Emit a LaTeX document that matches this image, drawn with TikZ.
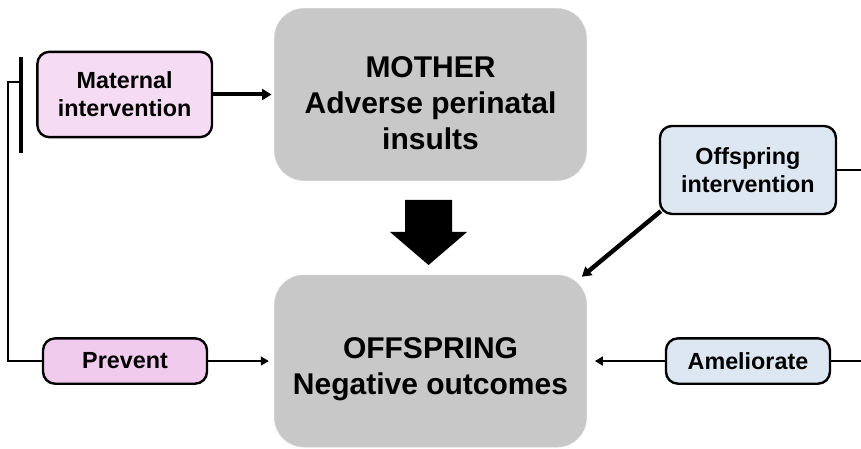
\documentclass[tikz,border=0pt]{standalone}
\usepackage{fontspec}
\setmainfont{Liberation Sans}
\usetikzlibrary{positioning, arrows.meta}
\definecolor{motherpink}{RGB}{246,220,243}
\definecolor{preventpink}{RGB}{240,203,238}
\definecolor{childblue}{RGB}{221,231,242}
\definecolor{boxgray}{RGB}{200,200,200}

\begin{document}
\begin{tikzpicture}[x=0.75pt, y=-0.75pt, node distance=70.5pt and 45.75pt,
    bigbox/.style={draw=boxgray!80!white, fill=boxgray, rounded corners=22pt,
                minimum width=234pt, minimum height=129pt},
    bigtext/.style={align=center, yshift=-6.5pt,
                font=\bfseries\fontsize{22.5}{27}\selectfont},
    smallbox/.style={draw, line width=1.8pt, rounded corners=9pt, minimum width=131pt,
                align=center, font=\bfseries\fontsize{17.5}{21}\selectfont},
    link/.style={line width=1.8pt, -{Triangle[length=6pt, width=6.5pt]}},
    heavy/.style={line width=3pt, -{Triangle[length=7pt, width=8pt]}}]

  \useasboundingbox (0,0) rectangle (861,449);

  \node[bigbox, label={[bigtext]center:MOTHER\\Adverse perinatal\\insults}]
        (mother) at (430.5,94.5) {};
  \node[bigbox, below=of mother, label={[bigtext]center:OFFSPRING\\Negative outcomes}]
        (offspring) {};
  \node[smallbox, fill=motherpink, minimum height=64pt, left=45.75pt of mother] (maternal)
        {Maternal\\intervention};
  \node[smallbox, fill=preventpink, minimum width=123pt, minimum height=34pt,
        left=49.5pt of offspring] (prevent) {Prevent};
  \node[smallbox, fill=childblue, minimum width=123pt, minimum height=34pt,
        right=58.5pt of offspring] (amel) {Ameliorate};
  \node[smallbox, fill=childblue, minimum width=132pt, minimum height=66pt,
        above=91.5pt of amel] (offint) {Offspring\\intervention};

  \coordinate (rightedge) at (861,0);
  \coordinate (bartop) at (21,57);
  \coordinate (barbot) at (21,153);
  \coordinate (barjoin) at (21,82);
  \coordinate (downarrow) at (428.5,200);

  % big arrow mother -> offspring
  \fill (downarrow) ++(-23.5,0) -- ++(47,0) -- ++(0,32) -- ++(15,0) -- ++(-38.5,33)
        -- ++(-38.5,-33) -- ++(15,0) -- cycle;

  \draw[heavy, shorten >=2pt] (maternal) -- (mother);
  \draw[link, shorten >=4pt] (prevent) -- (offspring);
  \draw[link, shorten >=6pt] (amel) -- (offspring);
  \draw[line width=1.8pt] (amel) -- (amel -| rightedge);
  \draw[line width=1.8pt] (offint) -- (offint -| rightedge);
  \draw[heavy, line width=3.3pt] ([shift={(2,-4)}]offint.south west)
        -- ([shift={(-5,2)}]offspring.north east);

  % bracket on the left
  \draw[line width=2.6pt] (bartop) -- (barbot);
  \draw[line width=1.8pt] (barjoin) -- ++(-13,0) |- (prevent);
\end{tikzpicture}
\end{document}
